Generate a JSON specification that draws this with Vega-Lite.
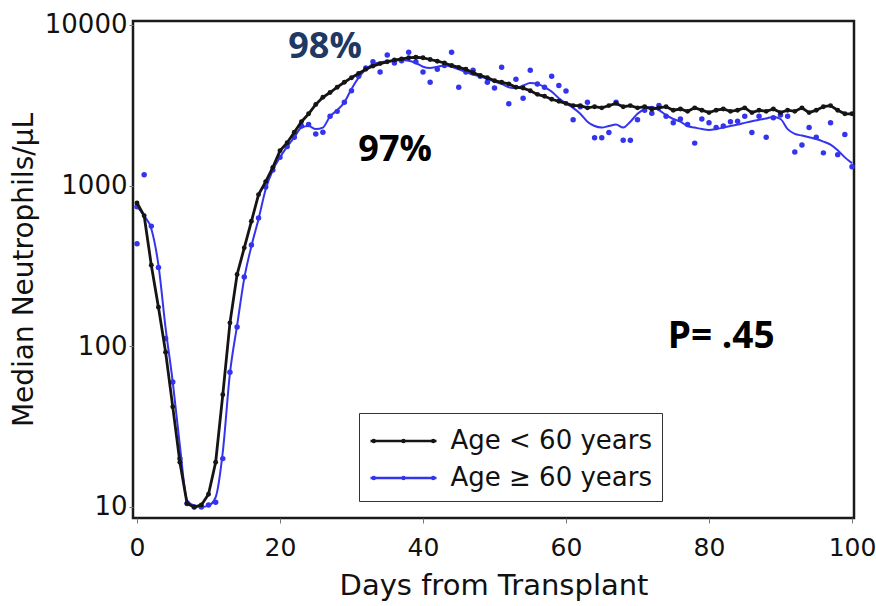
{
  "$schema": "https://vega.github.io/schema/vega-lite/v6.json",
  "width": 721,
  "height": 497,
  "autosize": {"type": "none"},
  "padding": {"left": 133, "top": 21, "right": 22, "bottom": 88},
  "background": "white",
  "config": {
    "view": {"stroke": "#1a1a1a", "strokeWidth": 2.5},
    "font": "DejaVu Sans"
  },
  "datasets": {
    "black": [
      {"day":0,"n":780},{"day":1,"n":650},{"day":2,"n":320},{"day":3,"n":175},{"day":4,"n":92},
      {"day":5,"n":42},{"day":6,"n":19},{"day":7,"n":10.5},{"day":8,"n":10},{"day":9,"n":10.3},
      {"day":10,"n":12},{"day":11,"n":19},{"day":12,"n":50},{"day":13,"n":140},{"day":14,"n":280},
      {"day":15,"n":410},{"day":16,"n":600},{"day":17,"n":880},{"day":18,"n":1060},{"day":19,"n":1300},
      {"day":20,"n":1650},{"day":21,"n":1850},{"day":22,"n":2150},{"day":23,"n":2500},{"day":24,"n":2800},
      {"day":25,"n":3200},{"day":26,"n":3550},{"day":27,"n":3800},{"day":28,"n":4100},{"day":29,"n":4400},
      {"day":30,"n":4700},{"day":31,"n":5000},{"day":32,"n":5300},{"day":33,"n":5550},{"day":34,"n":5750},
      {"day":35,"n":5900},{"day":36,"n":6050},{"day":37,"n":6150},{"day":38,"n":6250},{"day":39,"n":6300},
      {"day":40,"n":6250},{"day":41,"n":6100},{"day":42,"n":5950},{"day":43,"n":5800},{"day":44,"n":5600},
      {"day":45,"n":5450},{"day":46,"n":5300},{"day":47,"n":5050},{"day":48,"n":4850},{"day":49,"n":4700},
      {"day":50,"n":4500},{"day":51,"n":4400},{"day":52,"n":4300},{"day":53,"n":4100},{"day":54,"n":4050},
      {"day":55,"n":3900},{"day":56,"n":3700},{"day":57,"n":3600},{"day":58,"n":3450},{"day":59,"n":3350},
      {"day":60,"n":3250},{"day":61,"n":3150},{"day":62,"n":3150},{"day":63,"n":3050},{"day":64,"n":3100},
      {"day":65,"n":3050},{"day":66,"n":3150},{"day":67,"n":3250},{"day":68,"n":3100},{"day":69,"n":3150},
      {"day":70,"n":3050},{"day":71,"n":3100},{"day":72,"n":3000},{"day":73,"n":3050},{"day":74,"n":3100},
      {"day":75,"n":2950},{"day":76,"n":3000},{"day":77,"n":2900},{"day":78,"n":3050},{"day":79,"n":2950},
      {"day":80,"n":2850},{"day":81,"n":2950},{"day":82,"n":3000},{"day":83,"n":2900},{"day":84,"n":2950},
      {"day":85,"n":3050},{"day":86,"n":2850},{"day":87,"n":2950},{"day":88,"n":2900},{"day":89,"n":3000},
      {"day":90,"n":2850},{"day":91,"n":2950},{"day":92,"n":2900},{"day":93,"n":3050},{"day":94,"n":2850},
      {"day":95,"n":2950},{"day":96,"n":3100},{"day":97,"n":3150},{"day":98,"n":2950},{"day":99,"n":2800},
      {"day":100,"n":2800}
    ],
    "blueDots": [
      {"day":0,"n":740},{"day":0,"n":435},{"day":1,"n":1170},{"day":2,"n":560},{"day":3,"n":310},{"day":4,"n":112},
      {"day":5,"n":60},{"day":6,"n":20},{"day":7,"n":10.5},{"day":8,"n":10},{"day":9,"n":10},
      {"day":10,"n":10.3},{"day":11,"n":10.7},{"day":12,"n":20},{"day":13,"n":69},{"day":14,"n":132},
      {"day":15,"n":270},{"day":16,"n":427},{"day":17,"n":630},{"day":18,"n":980},{"day":19,"n":1250},
      {"day":20,"n":1500},{"day":21,"n":1750},{"day":22,"n":2000},{"day":23,"n":2350},{"day":24,"n":2400},
      {"day":25,"n":2100},{"day":26,"n":2150},{"day":27,"n":2700},{"day":28,"n":2900},{"day":29,"n":3300},
      {"day":30,"n":3900},{"day":31,"n":4800},{"day":32,"n":5400},{"day":33,"n":5900},{"day":34,"n":5100},
      {"day":35,"n":6500},{"day":36,"n":5800},{"day":37,"n":6000},{"day":38,"n":6760},{"day":39,"n":5900},
      {"day":40,"n":5100},{"day":41,"n":4400},{"day":42,"n":5300},{"day":43,"n":5600},{"day":44,"n":6760},
      {"day":45,"n":4100},{"day":46,"n":5100},{"day":47,"n":5230},{"day":48,"n":4800},{"day":49,"n":4400},
      {"day":50,"n":4050},{"day":51,"n":5450},{"day":52,"n":3240},{"day":53,"n":4600},{"day":54,"n":3500},
      {"day":55,"n":5230},{"day":56,"n":4300},{"day":57,"n":4100},{"day":58,"n":4800},{"day":59,"n":4200},
      {"day":60,"n":3880},{"day":61,"n":2570},{"day":62,"n":3100},{"day":63,"n":3310},{"day":64,"n":1990},
      {"day":65,"n":1990},{"day":66,"n":2140},{"day":67,"n":3310},{"day":68,"n":1920},{"day":69,"n":1920},
      {"day":70,"n":2570},{"day":71,"n":2950},{"day":72,"n":2820},{"day":73,"n":3160},{"day":74,"n":2700},
      {"day":75,"n":2460},{"day":76,"n":2600},{"day":77,"n":2400},{"day":78,"n":1840},{"day":79,"n":2600},
      {"day":80,"n":2460},{"day":81,"n":2300},{"day":82,"n":2350},{"day":83,"n":2500},{"day":84,"n":2520},
      {"day":85,"n":2700},{"day":86,"n":2140},{"day":87,"n":2700},{"day":88,"n":2000},{"day":89,"n":2650},
      {"day":90,"n":2750},{"day":91,"n":2700},{"day":92,"n":1620},{"day":93,"n":1790},{"day":94,"n":2300},
      {"day":95,"n":2000},{"day":96,"n":1600},{"day":97,"n":2460},{"day":98,"n":1560},{"day":99,"n":2080},
      {"day":100,"n":1310}
    ],
    "blueSmooth": [
      {"day":0,"n":740},{"day":1,"n":650},{"day":2,"n":540},{"day":3,"n":320},{"day":4,"n":130},
      {"day":5,"n":60},{"day":6,"n":24},{"day":7,"n":11},{"day":8,"n":10.2},{"day":9,"n":10},
      {"day":10,"n":10.2},{"day":11,"n":11.5},{"day":12,"n":22},{"day":13,"n":68},{"day":14,"n":135},
      {"day":15,"n":265},{"day":16,"n":420},{"day":17,"n":620},{"day":18,"n":950},{"day":19,"n":1250},
      {"day":20,"n":1500},{"day":21,"n":1750},{"day":22,"n":2000},{"day":23,"n":2300},{"day":24,"n":2350},
      {"day":25,"n":2250},{"day":26,"n":2300},{"day":27,"n":2700},{"day":28,"n":2950},{"day":29,"n":3300},
      {"day":30,"n":4000},{"day":31,"n":4700},{"day":32,"n":5300},{"day":33,"n":5700},{"day":34,"n":5850},
      {"day":35,"n":5950},{"day":36,"n":6000},{"day":37,"n":6050},{"day":38,"n":6000},{"day":39,"n":5800},
      {"day":40,"n":5500},{"day":41,"n":5400},{"day":42,"n":5500},{"day":43,"n":5600},{"day":44,"n":5500},
      {"day":45,"n":5300},{"day":46,"n":5100},{"day":47,"n":4900},{"day":48,"n":4800},{"day":49,"n":4600},
      {"day":50,"n":4450},{"day":51,"n":4300},{"day":52,"n":4100},{"day":53,"n":4050},{"day":54,"n":4200},
      {"day":55,"n":4350},{"day":56,"n":4300},{"day":57,"n":4100},{"day":58,"n":3850},{"day":59,"n":3500},
      {"day":60,"n":3250},{"day":61,"n":3050},{"day":62,"n":2800},{"day":63,"n":2500},{"day":64,"n":2350},
      {"day":65,"n":2300},{"day":66,"n":2350},{"day":67,"n":2400},{"day":68,"n":2300},{"day":69,"n":2500},
      {"day":70,"n":2800},{"day":71,"n":3000},{"day":72,"n":3100},{"day":73,"n":2950},{"day":74,"n":2750},
      {"day":75,"n":2600},{"day":76,"n":2500},{"day":77,"n":2350},{"day":78,"n":2300},{"day":79,"n":2250},
      {"day":80,"n":2220},{"day":81,"n":2250},{"day":82,"n":2300},{"day":83,"n":2350},{"day":84,"n":2400},
      {"day":85,"n":2460},{"day":86,"n":2520},{"day":87,"n":2570},{"day":88,"n":2620},{"day":89,"n":2680},
      {"day":90,"n":2600},{"day":91,"n":2250},{"day":92,"n":2100},{"day":93,"n":2050},{"day":94,"n":2000},
      {"day":95,"n":1950},{"day":96,"n":1880},{"day":97,"n":1800},{"day":98,"n":1660},{"day":99,"n":1500},
      {"day":100,"n":1380}
    ]
  },
  "layer": [
    {
      "encoding": {
        "x": {
          "field": "day", "type": "quantitative",
          "scale": {"domain": [-0.56, 100.28], "nice": false, "zero": false},
          "axis": {
            "values": [0, 20, 40, 60, 80, 100], "title": "Days from Transplant", "grid": false, "domain": false,
            "tickSize": 5, "tickColor": "#777", "tickWidth": 1,
            "labelFontSize": 25, "labelColor": "#111", "labelPadding": 12,
            "titleFontSize": 29, "titleFontWeight": "normal", "titleColor": "#111", "titlePadding": 11
          }
        },
        "y": {
          "field": "n", "type": "quantitative",
          "scale": {"type": "log", "domain": [8.54, 10590], "nice": false},
          "axis": {
            "values": [10, 100, 1000, 10000], "format": "d", "title": "Median Neutrophils/µL", "grid": false, "domain": false,
            "tickSize": 4, "tickColor": "#777", "tickWidth": 1,
            "labelFontSize": 26, "labelColor": "#111", "labelPadding": 2,
            "titleFontSize": 28, "titleFontWeight": "normal", "titleColor": "#111", "titlePadding": 6
          }
        }
      },
      "layer": [
        {
          "data": {"name": "blueDots"},
          "mark": {"type": "point", "filled": true, "size": 30, "opacity": 1},
          "encoding": {
            "color": {
              "datum": "Age ≥ 60 years",
              "scale": {"domain": ["Age < 60 years", "Age ≥ 60 years"], "range": ["#151515", "#3434ee"]},
              "legend": {
                "orient": "none", "legendX": 226, "legendY": 392, "title": null,
                "strokeColor": "#333", "fillColor": "white", "padding": 10,
                "labelFontSize": 26, "labelColor": "#111", "labelOffset": 29, "labelLimit": 400,
                "symbolType": "M-2,0H2M-1.86,0a0.06,0.06 0 1,0 0.12,0a0.06,0.06 0 1,0 -0.12,0M-0.06,0a0.06,0.06 0 1,0 0.12,0a0.06,0.06 0 1,0 -0.12,0M1.74,0a0.06,0.06 0 1,0 0.12,0a0.06,0.06 0 1,0 -0.12,0",
                "symbolSize": 1089, "symbolStrokeWidth": 2.5, "symbolOffset": 16.5, "rowPadding": 6
              }
            }
          }
        },
        {
          "data": {"name": "blueSmooth"},
          "mark": {"type": "line", "strokeWidth": 2, "interpolate": "monotone"},
          "encoding": {"color": {"datum": "Age ≥ 60 years"}}
        },
        {
          "data": {"name": "black"},
          "mark": {"type": "line", "strokeWidth": 2.8, "point": {"filled": true, "size": 24}},
          "encoding": {"color": {"datum": "Age < 60 years"}}
        }
      ]
    },
    {
      "data": {"values": [{}]},
      "mark": {"type": "text", "text": "98%", "font": "Open Sans", "fontWeight": "bold", "fontSize": 36, "color": "#203864"},
      "encoding": {"x": {"datum": 26.3}, "y": {"datum": 7280}}
    },
    {
      "data": {"values": [{}]},
      "mark": {"type": "text", "text": "97%", "font": "Open Sans", "fontWeight": "bold", "fontSize": 36, "color": "#000000"},
      "encoding": {"x": {"datum": 36.1}, "y": {"datum": 1665}}
    },
    {
      "data": {"values": [{}]},
      "mark": {"type": "text", "text": "P= .45", "font": "Open Sans", "fontWeight": "bold", "fontSize": 37, "color": "#000000"},
      "encoding": {"x": {"datum": 81.7}, "y": {"datum": 114}}
    }
  ]
}
